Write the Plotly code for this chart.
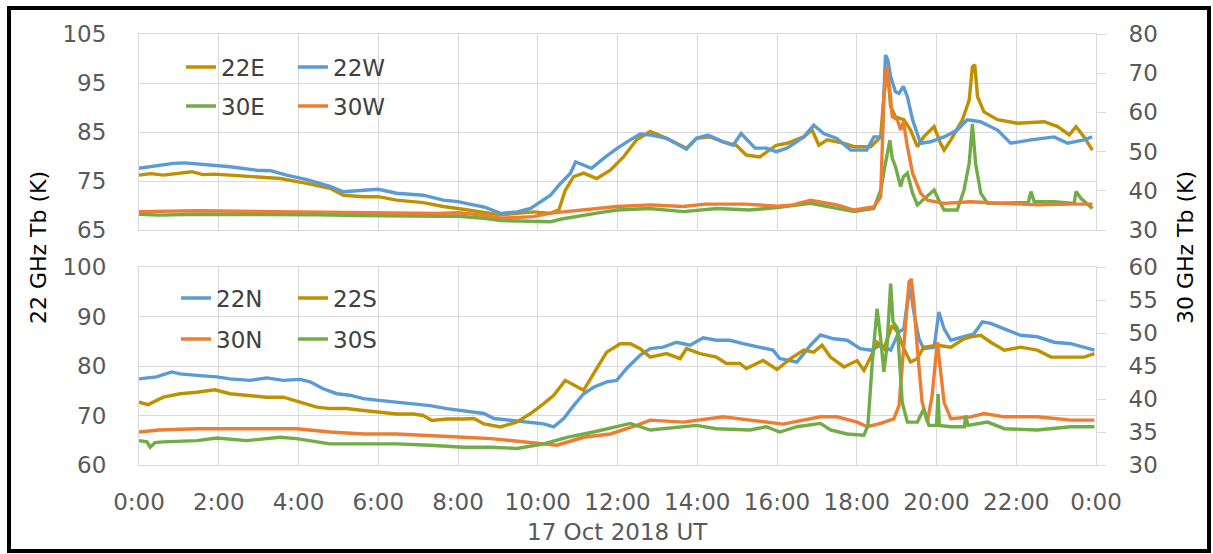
import plotly.graph_objects as go

# ---------------- data (hours UT, brightness temperature K) ----------------
# Top panel: 22 GHz (left axis), 30 GHz (right axis)
t_22E = [0.0,0.3,0.61,1.0,1.32,1.6,1.86,2.28,2.95,3.54,4.21,4.79,5.13,5.63,6.0,6.46,7.13,7.63,8.0,
         8.23,8.65,9.07,9.48,9.9,10.32,10.53,10.69,10.9,11.15,11.48,11.82,12.15,12.48,12.82,13.23,13.73,13.98,
         14.32,14.65,14.98,15.23,15.57,15.98,16.25,16.67,16.88,17.05,17.26,17.68,17.93,18.35,18.6,18.68,18.76,
         18.85,18.97,19.18,19.35,19.52,19.68,19.94,20.1,20.19,20.36,20.65,20.82,20.9,20.96,21.03,21.19,21.53,
         22.03,22.7,23.04,23.33,23.5,23.7,23.91]
v_22E = [76.2,76.5,76.2,76.6,76.9,76.3,76.4,76.2,75.9,75.5,74.5,73.5,72.1,71.8,71.8,71.1,70.6,69.8,69.4,
         69.1,68.7,68.1,68.4,68.7,68.4,69.1,73.1,75.9,76.6,75.5,77.2,79.9,83.4,85.1,83.7,81.7,83.7,
         84.0,83.0,82.3,80.3,79.9,82.3,82.7,84.0,85.4,82.3,83.4,82.7,82.0,82.0,84.0,92.2,98.3,
         90.2,88.1,87.5,85.4,82.0,84.0,86.1,82.7,81.3,83.4,87.5,91.5,98.3,98.7,92.2,89.1,87.5,
         86.8,87.1,86.1,84.4,86.1,84.0,81.3]

t_22W = [0.0,0.3,0.86,1.15,1.86,2.28,2.95,3.3,3.7,4.21,4.79,5.13,5.63,6.0,6.46,7.13,7.63,8.0,
         8.23,8.65,9.07,9.48,9.82,10.07,10.32,10.57,10.82,10.95,11.15,11.35,11.65,11.98,12.32,12.57,12.82,
         13.23,13.73,13.98,14.27,14.65,14.9,15.1,15.45,15.73,15.98,16.25,16.67,16.92,17.17,17.5,17.85,18.25,
         18.43,18.64,18.72,18.78,18.85,18.97,19.06,19.17,19.27,19.4,19.6,19.85,20.19,20.52,20.77,21.1,21.53,
         21.86,22.37,22.95,23.29,23.7,23.9]
v_22W = [77.6,78.0,78.6,78.7,78.3,77.9,77.2,77.1,76.2,75.3,73.9,72.8,73.1,73.3,72.5,72.1,71.1,70.8,
         70.4,69.7,68.4,68.7,69.4,70.8,72.1,74.5,76.6,78.9,78.3,77.6,79.6,81.6,83.4,84.6,84.4,
         83.7,81.5,83.7,84.4,83.0,82.3,84.7,81.7,81.7,81.0,81.7,84.0,86.4,84.7,83.7,81.3,81.3,
         84.0,84.0,100.7,99.7,96.3,93.2,92.9,94.3,92.2,87.5,82.7,83.0,84.0,85.4,87.5,87.1,85.4,
         82.7,83.4,84.0,82.7,83.4,84.0]

t_30E = [0.0,0.5,1.5,2.5,3.5,4.5,5.5,6.5,7.5,8.0,8.65,9.07,9.5,10.32,10.6,11.15,11.6,12.0,12.8,13.65,
         14.5,15.3,16.0,16.84,17.5,17.93,18.43,18.6,18.72,18.83,18.89,18.97,19.1,19.17,19.27,19.4,19.52,
         19.77,19.94,20.06,20.19,20.52,20.69,20.82,20.9,20.98,21.11,21.28,21.86,22.3,22.37,22.45,22.95,
         23.45,23.5,23.62,23.91]
v_30E = [34.0,33.8,34.0,34.0,34.1,33.9,33.7,33.5,33.5,33.5,33.0,32.4,32.3,32.1,32.8,33.8,34.5,35.1,35.5,34.7,
         35.5,35.1,35.7,36.8,35.6,34.7,35.5,40.2,47.0,52.9,48.3,46.2,41.1,43.6,44.5,39.4,36.4,
         38.5,40.2,37.6,35.1,35.1,40.2,47.0,57.0,47.0,39.4,36.8,36.8,37.0,39.8,37.2,37.2,
         36.8,39.8,38.1,35.5]

t_30W = [0.0,0.5,1.5,2.5,3.5,4.5,5.5,6.5,7.5,8.0,8.65,9.07,9.9,10.32,11.15,12.0,12.82,13.65,14.2,15.2,16.0,
         16.4,16.84,17.5,17.93,18.43,18.6,18.68,18.75,18.83,18.89,19.02,19.1,19.17,19.27,19.4,19.6,19.77,
         20.19,20.86,21.7,22.53,23.37,23.91]
v_30W = [34.7,34.8,34.9,34.8,34.7,34.6,34.5,34.5,34.2,34.4,33.8,33.0,33.4,34.3,35.1,36.0,36.4,36.0,36.6,36.6,36.1,
         36.4,37.6,36.4,35.1,35.9,38.5,64.0,71.7,65.7,58.9,58.1,55.5,57.6,51.3,44.5,39.4,37.6,
         36.8,37.2,36.8,36.4,36.6,36.6]

# Bottom panel: 22 GHz (left axis), 30 GHz (right axis)
t_22N = [0.0,0.44,0.82,1.03,1.45,1.95,2.28,2.78,3.2,3.62,4.04,4.29,4.62,4.96,5.29,5.63,5.96,6.46,6.96,7.3,7.72,8.14,
         8.32,8.65,8.9,9.32,9.73,10.15,10.4,10.65,10.9,11.15,11.4,11.73,11.98,12.23,12.57,12.82,13.15,13.48,13.82,
         14.15,14.48,14.82,15.15,15.57,15.9,16.07,16.5,16.84,17.09,17.42,17.76,18.09,18.35,18.6,18.85,19.06,19.18,
         19.27,19.35,19.43,19.56,19.68,19.94,20.06,20.19,20.36,20.69,20.94,21.15,21.36,21.7,22.11,22.53,22.95,
         23.37,23.7,23.96]
v_22N = [77.4,77.8,78.8,78.4,78.1,77.8,77.4,77.1,77.6,77.1,77.3,76.8,75.4,74.4,74.1,73.4,73.1,72.7,72.4,72.0,71.4,70.9,
         70.7,70.4,69.4,69.0,68.7,68.3,67.7,69.4,72.0,74.4,75.7,76.8,77.1,79.5,82.2,83.5,83.8,84.8,84.2,
         85.7,85.2,85.2,84.5,83.8,83.2,81.5,80.8,84.2,86.3,85.5,85.2,83.5,83.2,84.2,83.2,86.9,87.5,
         92.9,95.6,90.9,85.5,83.5,83.8,90.9,87.5,85.2,85.9,86.5,88.9,88.6,87.5,86.2,85.9,84.8,
         84.5,83.8,83.2]

t_22S = [0.0,0.23,0.61,1.03,1.45,1.9,2.28,2.7,3.2,3.62,4.04,4.46,4.79,5.2,5.63,6.05,6.46,6.88,7.13,7.34,7.72,8.14,
         8.4,8.65,9.07,9.48,9.82,10.15,10.4,10.69,10.9,11.15,11.48,11.73,12.07,12.32,12.57,12.82,13.23,13.57,13.73,
         14.07,14.48,14.73,15.07,15.23,15.65,16.0,16.34,16.67,16.92,17.13,17.34,17.68,18.01,18.18,18.35,18.51,
         18.68,18.89,19.02,19.18,19.35,19.52,19.68,20.02,20.36,20.69,20.86,21.11,21.36,21.7,22.11,22.53,22.87,
         23.37,23.7,23.96]
v_22S = [72.7,72.2,73.7,74.4,74.7,75.2,74.4,74.1,73.7,73.7,72.7,71.7,71.4,71.4,71.0,70.7,70.3,70.3,70.0,69.0,69.3,69.3,
         69.4,68.3,67.7,68.7,70.4,72.4,74.1,77.1,76.1,75.1,79.5,82.8,84.5,84.5,83.5,81.8,82.5,81.5,83.5,
         82.5,81.8,80.5,80.5,79.5,81.1,79.3,81.5,83.2,82.8,84.2,81.8,79.8,81.1,79.1,81.8,84.8,
         83.5,88.2,86.9,83.5,80.8,81.5,83.8,84.2,83.8,85.5,85.9,86.2,84.8,83.2,83.8,83.2,81.8,
         81.8,81.8,82.5]

t_30N = [0.0,0.5,1.45,2.28,3.1,3.95,4.79,5.63,6.46,7.3,8.14,8.83,9.65,10.48,11.15,11.82,12.48,12.82,13.65,14.32,
         14.65,15.32,16.15,17.09,17.5,18.01,18.26,18.6,18.93,19.06,19.18,19.31,19.37,19.43,19.52,19.64,19.77,
         19.89,20.02,20.1,20.19,20.36,20.86,21.19,21.7,22.53,23.37,23.96]
v_30N = [35.0,35.3,35.5,35.5,35.5,35.5,35.0,34.7,34.7,34.5,34.2,34.0,33.5,33.0,34.2,34.7,36.0,36.8,36.5,37.0,
         37.3,36.8,36.2,37.3,37.3,36.5,35.8,36.3,37.0,39.0,48.1,57.7,58.2,54.7,47.6,39.5,36.5,
         40.5,48.6,44.1,39.5,37.0,37.3,37.8,37.3,37.3,36.8,36.8]

t_30S = [0.0,0.2,0.28,0.4,0.61,1.45,1.95,2.7,3.54,3.95,4.79,5.63,6.46,7.3,8.14,8.83,9.48,10.15,10.73,11.4,11.98,
         12.32,12.82,13.65,13.98,14.48,15.32,15.73,16.07,16.5,17.09,17.34,17.76,18.18,18.28,18.39,18.51,18.6,
         18.68,18.76,18.85,18.91,19.02,19.14,19.27,19.52,19.68,19.81,20.0,20.04,20.07,20.36,20.7,20.73,20.79,
         21.28,21.7,22.53,23.37,23.96]
v_30S = [33.7,33.5,32.7,33.4,33.5,33.7,34.1,33.7,34.2,34.0,33.2,33.2,33.2,33.0,32.7,32.7,32.5,33.2,34.2,35.0,35.8,
         36.3,35.3,35.8,36.0,35.5,35.3,35.8,35.0,35.8,36.3,35.3,34.7,34.5,36.0,45.6,53.7,49.1,
         44.1,48.1,57.5,51.7,50.7,39.5,36.5,36.5,38.5,36.0,36.0,40.8,36.0,35.8,35.8,37.5,36.0,
         36.5,35.5,35.3,35.8,35.8]

hour_ticks = [0, 2, 4, 6, 8, 10, 12, 14, 16, 18, 20, 22, 24]
hour_labels = ["0:00", "2:00", "4:00", "6:00", "8:00", "10:00", "12:00", "14:00",
               "16:00", "18:00", "20:00", "22:00", "0:00"]

# ---------------- styling ----------------
GOLD = "#BF9000"
BLUE = "#5B9BD5"
GREEN = "#70AD47"
ORANGE = "#ED7D31"
GRID = "#D9D9D9"
TICKC = "#595959"
FONT = "DejaVu Sans"
LW = 3.4

fig = go.Figure()

def add(t, v, name, color, xa, ya, legend):
    fig.add_trace(go.Scatter(x=t, y=v, name=name, mode="lines",
                             line=dict(color=color, width=LW),
                             xaxis=xa, yaxis=ya, legend=legend))

# top panel (x2 / y3 left, y4 right)
add(t_22E, v_22E, "22E", GOLD, "x2", "y3", "legend")
add(t_22W, v_22W, "22W", BLUE, "x2", "y3", "legend")
add(t_30E, v_30E, "30E", GREEN, "x2", "y4", "legend2")
add(t_30W, v_30W, "30W", ORANGE, "x2", "y4", "legend2")
# bottom panel (x / y left, y2 right)
add(t_22N, v_22N, "22N", BLUE, "x", "y", "legend3")
add(t_22S, v_22S, "22S", GOLD, "x", "y", "legend3")
add(t_30N, v_30N, "30N", ORANGE, "x", "y2", "legend4")
add(t_30S, v_30S, "30S", GREEN, "x", "y2", "legend4")

W, H = 1213, 554
L, R, T, B = 139, 117, 34, 89
ph = H - T - B  # 431

def py(y):  # pixel y -> paper y
    return (H - B - y) / ph

def px(x):  # pixel x -> paper x
    return (x - L) / (W - L - R)

top_dom = [py(230), 1.0]
bot_dom = [0.0, py(267)]

tickfont = dict(family=FONT, size=23, color=TICKC)

xcommon = dict(range=[0, 24], tickmode="array", tickvals=hour_ticks, ticktext=hour_labels,
               showgrid=True, gridcolor=GRID, gridwidth=1, showline=True, linecolor=GRID,
               linewidth=1, mirror=True, ticks="", zeroline=False, tickfont=tickfont)

legcommon = dict(orientation="h", bgcolor="rgba(0,0,0,0)", borderwidth=0,
                 font=dict(family=FONT, size=23, color="#404040"),
                 entrywidthmode="pixels", xanchor="left", yanchor="middle",
                 itemwidth=30, tracegroupgap=0)

fig.update_layout(
    width=W, height=H,
    margin=dict(l=L, r=R, t=T, b=B, pad=0),
    paper_bgcolor="white", plot_bgcolor="white",
    xaxis=dict(xcommon, anchor="y", domain=[0, 1], showticklabels=True, ticklabelstandoff=16),
    xaxis2=dict(xcommon, anchor="y3", domain=[0, 1], matches="x", showticklabels=False),
    yaxis=dict(domain=bot_dom, range=[60, 100], tickvals=[60, 70, 80, 90, 100], anchor="x",
               showgrid=True, gridcolor=GRID, showline=True, linecolor=GRID, mirror=True,
               ticks="", zeroline=False, tickfont=tickfont, ticklabelstandoff=27),
    yaxis2=dict(range=[30, 60], tickvals=[30, 35, 40, 45, 50, 55, 60], overlaying="y", side="right",
                anchor="x", showgrid=False, showline=True, linecolor=GRID, ticks="outside",
                ticklen=9, tickcolor=GRID, zeroline=False, tickfont=tickfont, ticklabelstandoff=18),
    yaxis3=dict(domain=top_dom, range=[65, 105], tickvals=[65, 75, 85, 95, 105], anchor="x2",
                showgrid=True, gridcolor=GRID, showline=True, linecolor=GRID, mirror=True,
                ticks="", zeroline=False, tickfont=tickfont, ticklabelstandoff=27),
    yaxis4=dict(range=[30, 80], tickvals=[30, 40, 50, 60, 70, 80], overlaying="y3", side="right",
                anchor="x2", showgrid=False, showline=True, linecolor=GRID, ticks="outside",
                ticklen=9, tickcolor=GRID, zeroline=False, tickfont=tickfont, ticklabelstandoff=18),
    legend=dict(legcommon, x=px(181), y=py(67), entrywidth=67),
    legend2=dict(legcommon, x=px(181), y=py(106), entrywidth=67),
    legend3=dict(legcommon, x=px(176), y=py(298), entrywidth=72),
    legend4=dict(legcommon, x=px(176), y=py(339), entrywidth=72),
    showlegend=True,
)

# white boxes behind legends (hide gridlines)
for (x0, x1, y0, y1) in [(178, 403, 48, 125), (163, 400, 281, 358)]:
    fig.add_shape(type="rect", xref="paper", yref="paper", x0=px(x0), x1=px(x1), y0=py(y1), y1=py(y0),
                  fillcolor="white", line=dict(width=0), layer="between")

# outer black frame
fig.add_shape(type="rect", xref="paper", yref="paper", x0=px(9), x1=px(1209), y0=py(551), y1=py(8),
              line=dict(color="black", width=4), fillcolor="rgba(0,0,0,0)", layer="above")

# axis titles
fig.add_annotation(text="22 GHz Tb (K)", xref="paper", yref="paper", x=px(39), y=py(248),
                   textangle=-90, showarrow=False, font=dict(family=FONT, size=22, color="black"),
                   xanchor="center", yanchor="middle")
fig.add_annotation(text="30 GHz Tb (K)", xref="paper", yref="paper", x=px(1186), y=py(248),
                   textangle=-90, showarrow=False, font=dict(family=FONT, size=22, color="black"),
                   xanchor="center", yanchor="middle")
fig.add_annotation(text="17 Oct 2018 UT", xref="paper", yref="paper", x=px(617), y=py(532),
                   showarrow=False, font=dict(family=FONT, size=23, color=TICKC),
                   xanchor="center", yanchor="middle")

fig.write_html("out.html", config={"displayModeBar": False},
               post_script="document.body.style.margin='0';document.body.style.overflow='hidden';")
